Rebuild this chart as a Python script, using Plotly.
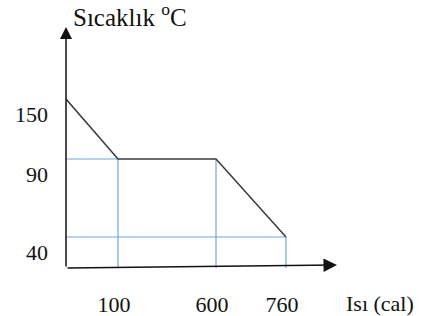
import numpy as np
import plotly.graph_objects as go

# ---- data ----
heat_cal = [0, 100, 600, 760]          # heat added (cal)
temperature_c = [150, 90, 90, 40]      # temperature (°C)
x_tick_values = [100, 600, 760]
x_tick_labels = ["100", "600", "760"]
y_tick_values = [150, 90, 40]
y_tick_labels = ["150", "90", "40"]
x_title = "Isı (cal)"
y_title = "Sıcaklık <sup>o</sup>C"

# ---- schematic (not-to-scale) axis scales, as drawn in the original sketch ----
X_ANCHOR_VAL = [0, 100, 600, 760]
X_ANCHOR_POS = [0, 52, 150, 220]
Y_ANCHOR_VAL = [0, 40, 90, 150]
Y_ANCHOR_POS = [0, 31, 109, 169]


def sx(v):
    return np.interp(v, X_ANCHOR_VAL, X_ANCHOR_POS)


def sy(v):
    return np.interp(v, Y_ANCHOR_VAL, Y_ANCHOR_POS)


BLACK = "#3a3a3a"
BLUE = "#6fa6dc"
FONT = "Liberation Serif, Times New Roman, serif"
PLOT_H = 268

xs = sx(heat_cal)
ys = sy(temperature_c)

fig = go.Figure()

# blue guide lines (drop lines from the break points)
guides = [
    ([sx(0), xs[1]], [ys[1], ys[1]]),
    ([xs[1], xs[1]], [ys[1], sy(0)]),
    ([xs[2], xs[2]], [ys[2], sy(0)]),
    ([sx(0), xs[3]], [ys[3], ys[3]]),
    ([xs[3], xs[3]], [ys[3], sy(0)]),
]
for gx, gy in guides:
    fig.add_trace(go.Scatter(x=gx, y=gy, mode="lines",
                             line=dict(color=BLUE, width=1.2),
                             hoverinfo="skip", showlegend=False))

# heating curve
fig.add_trace(go.Scatter(x=xs, y=ys, mode="lines",
                         line=dict(color=BLACK, width=1.5),
                         showlegend=False))

# axes drawn as arrows
fig.add_annotation(x=0, y=241, ax=0, ay=0, xref="x", yref="y", axref="x", ayref="y",
                   text="", showarrow=True, arrowhead=2, arrowsize=1.6,
                   arrowwidth=1.5, arrowcolor="#111111", standoff=0)
fig.add_annotation(x=271, y=3, ax=0, ay=0, xref="x", yref="y", axref="x", ayref="y",
                   text="", showarrow=True, arrowhead=2, arrowsize=1.8,
                   arrowwidth=1.5, arrowcolor="#111111", standoff=0)

# axis titles
fig.add_annotation(x=5, y=253, xref="x", yref="y", text=y_title, showarrow=False,
                   xanchor="left", yanchor="middle",
                   font=dict(family=FONT, size=25, color="#111111"))
fig.add_annotation(x=314, y=-35 / PLOT_H, xref="x", yref="paper", text=x_title,
                   showarrow=False, xanchor="center", yanchor="middle",
                   font=dict(family=FONT, size=22, color="#111111"))

fig.update_xaxes(range=[0, 359], showgrid=False, zeroline=False, showline=False,
                 automargin=False,
                 tickvals=sx(x_tick_values), ticktext=x_tick_labels,
                 ticks="", ticklabelstandoff=21, ticklabelshift=-4,
                 tickfont=dict(family=FONT, size=22, color="#111111"))
fig.update_yaxes(range=[0, PLOT_H], showgrid=False, zeroline=False, showline=False,
                 automargin=False,
                 tickvals=sy(y_tick_values), ticktext=y_tick_labels,
                 ticks="", ticklabelstandoff=17, ticklabelshift=15,
                 tickfont=dict(family=FONT, size=22, color="#111111"))

fig.update_layout(width=425, height=316, margin=dict(l=66, r=0, t=0, b=48),
                  plot_bgcolor="white", paper_bgcolor="white", showlegend=False)

fig.write_html("out.html", config={"displayModeBar": False},
               post_script="document.body.style.margin='0';document.body.style.overflow='hidden';")
